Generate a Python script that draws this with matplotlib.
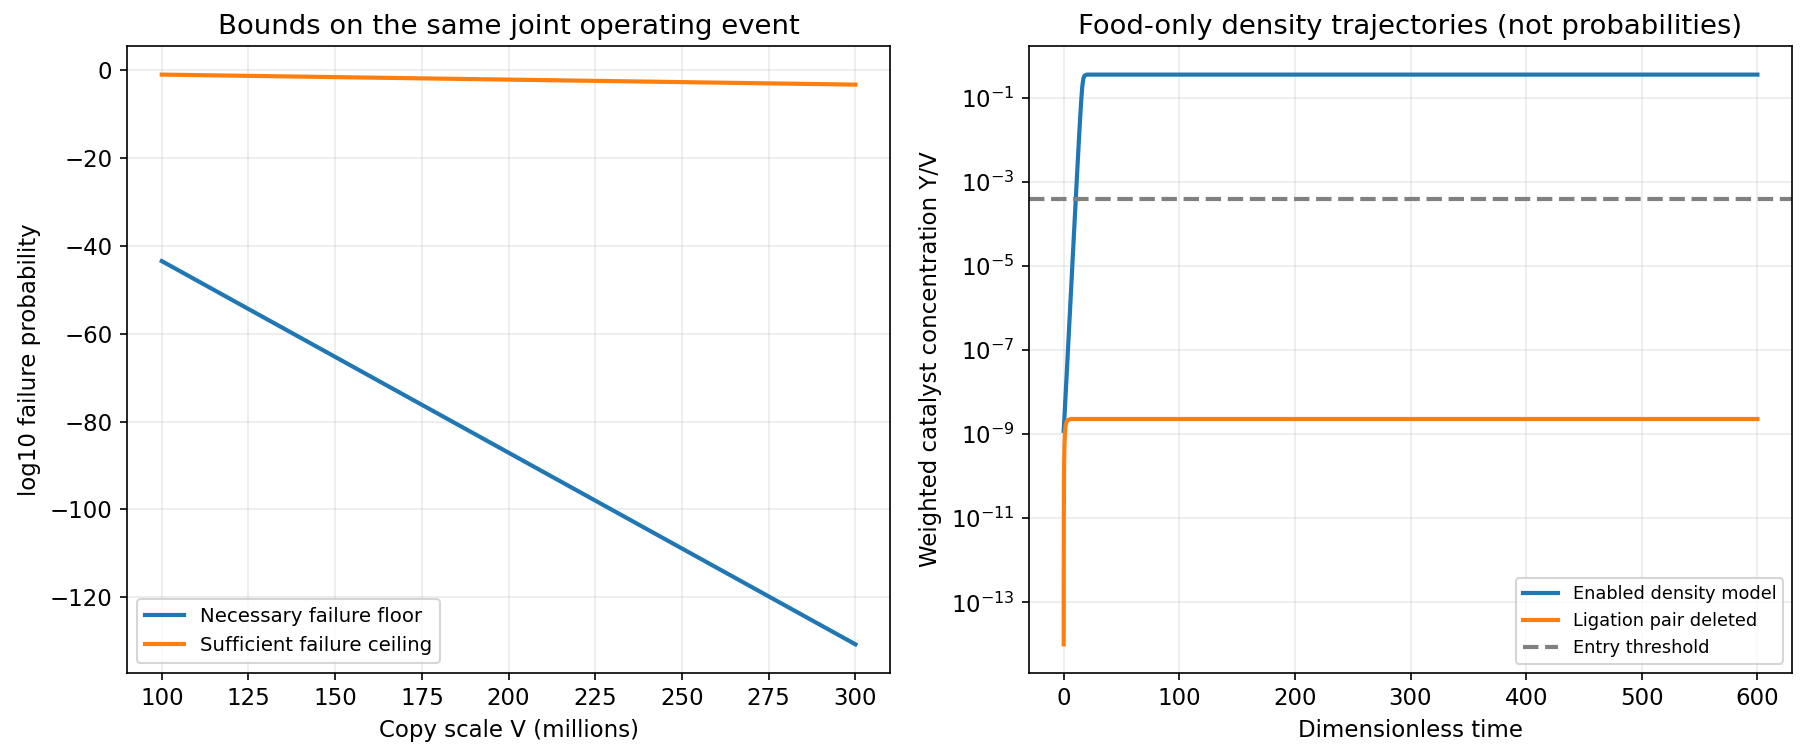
import matplotlib
matplotlib.use("Agg")
import matplotlib.pyplot as plt

plt.rcParams["font.size"] = 11

# left panel: log10 failure bounds vs copy scale
V_millions = [100, 150, 200, 250, 300]
floor_log10 = [-43.5, -65.3, -87.1, -108.9, -130.7]
ceiling_log10 = [-1.07, -1.64, -2.21, -2.78, -3.35]

# right panel: trajectories
t_enabled = [0, 2, 4, 6, 8, 10, 12, 14, 15, 16, 17, 18, 20, 30, 600]
y_enabled = [1.2e-9, 1.3e-8, 1.5e-7, 1.7e-6, 2.0e-5, 2.3e-4, 2.6e-3, 2.6e-2, 7.5e-2, 0.18, 0.29, 0.34, 0.36, 0.36, 0.36]
t_deleted = [0, 0.1, 0.3, 0.6, 1.0, 1.5, 2.0, 3.0, 4.0, 6.0, 10, 600]
y_deleted = [1e-14, 1e-11, 1.5e-10, 5e-10, 1.0e-9, 1.5e-9, 1.8e-9, 2.1e-9, 2.2e-9, 2.3e-9, 2.3e-9, 2.3e-9]
entry_threshold = 4e-4

fig, (ax1, ax2) = plt.subplots(1, 2, figsize=(12, 5.04), dpi=150)
fig.subplots_adjust(left=0.0706, right=0.9956, top=0.939, bottom=0.110, wspace=0.182)

ax1.plot(V_millions, floor_log10, lw=2, label="Necessary failure floor")
ax1.plot(V_millions, ceiling_log10, lw=2, label="Sufficient failure ceiling")
ax1.set_xlabel("Copy scale V (millions)")
ax1.set_ylabel("log10 failure probability")
ax1.set_title("Bounds on the same joint operating event")
ax1.grid(alpha=0.25)
ax1.legend(fontsize=9.5)

ax2.plot(t_enabled, y_enabled, lw=2, label="Enabled density model")
ax2.plot(t_deleted, y_deleted, lw=2, label="Ligation pair deleted")
ax2.axhline(entry_threshold, color="gray", ls="--", lw=2, label="Entry threshold")
ax2.set_yscale("log")
ax2.set_xlabel("Dimensionless time")
ax2.set_ylabel("Weighted catalyst concentration Y/V")
ax2.set_title("Food-only density trajectories (not probabilities)")
ax2.grid(alpha=0.25)
ax2.legend(fontsize=8.5)

fig.savefig("out.png")
